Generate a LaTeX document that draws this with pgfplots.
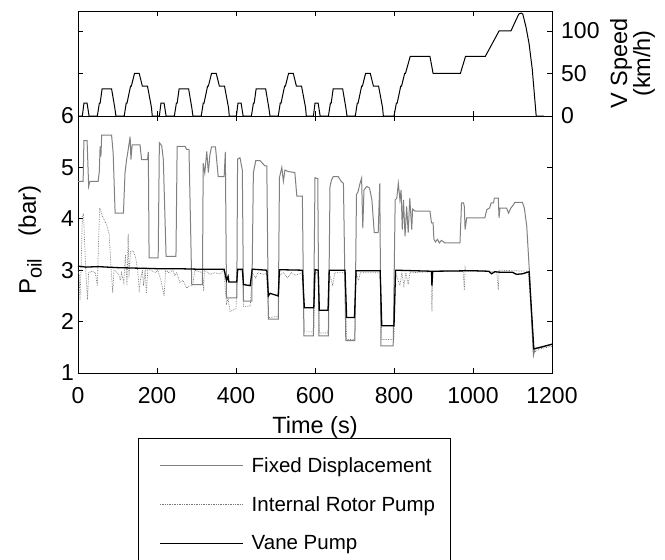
\documentclass[border=0pt]{standalone}
\usepackage{fontspec}
\setmainfont{Liberation Sans}
\usepackage{pgfplots}
\pgfplotsset{compat=1.18}
\definecolor{fixgray}{RGB}{128,128,128}
\definecolor{dotgray}{RGB}{120,120,120}
\begin{document}
\begin{tikzpicture}
\useasboundingbox (0pt,0pt) rectangle (665pt,-560pt);
\pgfplotsset{every axis/.append style={
  scale only axis, tick align=inside, major tick length=5pt,
  axis line style={line width=0.8pt},
  every tick/.style={black, line width=0.8pt},
  /pgf/number format/assume math mode=true,
  /pgf/number format/1000 sep={},
  tick label style={font=\fontsize{23}{26}\selectfont},
  label style={font=\fontsize{23.5}{20.5}\selectfont},
  xmin=0, xmax=1200, xtick={0,200,...,1200}}}
% ---------------- top: vehicle speed ----------------
\begin{axis}[at={(78pt,-116pt)}, anchor=south west, width=474pt, height=105pt,
  ymin=0, ymax=123.5, ytick={0,50,100}, xticklabels={},
  yticklabel pos=right,
  yticklabel style={inner sep=0pt, anchor=west, xshift=9pt},
  ylabel={V Speed\\(km/h)},
  ylabel style={at={(axis description cs:1.17,0.5)}, anchor=center, align=center}]
\addplot[black, line width=1pt] coordinates {
(0,0)(11,0)(15,15)(23,15)(28,0)(49,0)(54,15)(56,15)(61,32)(85,32)(93,10)(96,0)(117,0)(122,15)(124,15)(133,35)(135,35)(143,50)(155,50)(163,35)(176,35)(186,10)(188,0)(195,0)
(206,0)(210,15)(218,15)(223,0)(244,0)(249,15)(251,15)(256,32)(280,32)(288,10)(291,0)(312,0)(317,15)(319,15)(328,35)(330,35)(338,50)(350,50)(358,35)(371,35)(381,10)(383,0)(390,0)
(401,0)(405,15)(413,15)(418,0)(439,0)(444,15)(446,15)(451,32)(475,32)(483,10)(486,0)(507,0)(512,15)(514,15)(523,35)(525,35)(533,50)(545,50)(553,35)(566,35)(576,10)(578,0)(585,0)
(596,0)(600,15)(608,15)(613,0)(634,0)(639,15)(641,15)(646,32)(670,32)(678,10)(681,0)(702,0)(707,15)(709,15)(718,35)(720,35)(728,50)(740,50)(748,35)(761,35)(771,10)(773,0)(780,0)
(800,0)(806,15)(808,15)(817,35)(819,35)(827,50)(829,50)(841,70)(891,70)(899,50)(968,50)(981,70)(1031,70)(1066,100)(1096,100)(1116,120)(1122,121)(1126,120)(1134,105)(1142,85)(1150,55)(1160,0)(1180,0)
};
\end{axis}
% ---------------- bottom: oil pressure ----------------
\begin{axis}[at={(78pt,-373pt)}, anchor=south west, width=474pt, height=257pt,
  ymin=1, ymax=6, ytick={1,2,...,6},
  xticklabel style={anchor=base, yshift=-30pt},
  yticklabel style={inner sep=0pt, anchor=east, xshift=-4pt},
  xlabel={Time (s)},
  xlabel style={at={(axis description cs:0.5,-0.2335)}, anchor=base},
  ylabel={P\textsubscript{\fontsize{20}{20}\selectfont oil}\hspace{22pt}(bar)},
  ylabel style={at={(axis description cs:-0.101,0.5175)}, anchor=center, font=\fontsize{24}{24}\selectfont},
  legend cell align=left,
  legend style={at={(axis description cs:0.1266,-0.2529)}, anchor=north west,
    draw=black, line width=0.8pt, inner xsep=15pt, inner ysep=19pt,
    row sep=22.7pt, column sep=8pt, font=\fontsize{20.5}{24}\selectfont,
    nodes={inner sep=0pt}},
  legend image code/.code={\path (0pt,0pt); \draw[#1] (6pt,0pt) -- (89pt,0pt);}]
\addplot[fixgray, line width=1pt] coordinates {
(0,4.73)(13,4.73)(15,5.52)(23,5.52)(27,4.63)(30,4.73)(51,4.73)(54,4.92)(56,5.41)(58,5.21)(60,5.63)(85,5.63)(89,5.28)(94,4.11)(115,4.11)(119,4.89)(123,5.15)(127,5.34)(132,5.60)(134,5.15)(137,5.44)(157,5.44)(161,5.15)(176,5.15)(178,5.30)(180,3.24)(203,3.24)(206,5.48)(212,5.42)(216,5.15)(223,3.27)(248,3.27)(251,5.41)(271,5.41)(275,5.35)(281,5.35)(288,2.72)(315,2.72)(317,5.08)(321,4.89)(326,5.31)(330,4.90)(334,5.25)(338,5.40)(348,5.40)(355,4.82)(370,4.82)(373,5.30)(376,2.46)(402,2.46)(404,5.16)(410,5.19)(416,4.95)(419,2.40)(440,2.40)(444,4.90)(450,5.13)(461,5.13)(473,5.03)(478,5.03)(482,2.05)(507,2.05)(510,4.80)(516,5.00)(520,4.73)(524,4.95)(532,4.92)(549,4.90)(554,4.44)(568,4.44)(572,1.72)(596,1.72)(600,4.80)(607,4.78)(610,1.72)(634,1.72)(638,4.63)(642,4.76)(646,4.82)(659,4.82)(666,4.73)(672,4.69)(678,1.63)(701,1.63)(705,4.47)(709,4.53)(714,4.69)(718,4.79)(721,3.82)(724,4.56)(731,4.63)(738,4.60)(744,4.37)(750,3.73)(760,3.73)(764,4.69)(767,1.53)(798,1.53)(803,4.37)(807,4.40)(811,4.69)(815,4.37)(818,4.56)(821,3.79)(824,4.37)(828,3.66)(832,4.24)(836,3.73)(840,4.40)(845,3.79)(847,4.19)(853,4.15)(891,4.15)(895,3.92)(899,3.92)(901,3.60)(905,3.55)(910,3.60)(915,3.53)(920,3.58)(929,3.53)(967,3.53)(971,4.31)(976,4.31)(978,4.24)(980,3.79)(984,4.02)(1030,4.02)(1035,4.18)(1042,4.21)(1046,4.31)(1052,4.31)(1054,4.40)(1064,4.40)(1066,4.02)(1068,4.21)(1085,4.21)(1090,4.11)(1096,4.21)(1102,4.27)(1106,4.32)(1125,4.32)(1130,4.21)(1136,3.86)(1144,2.82)(1149,1.92)(1153,1.34)(1157,1.47)(1174,1.50)(1200,1.56)
};
\addlegendentry{Fixed Displacement}
\addplot[dotgray, line width=0.7pt, densely dotted] coordinates {
(0,3.00)(3,2.90)(5,2.43)(8,3.10)(11,4.05)(14,4.10)(17,3.50)(20,2.95)(24,2.43)(27,2.95)(35,2.98)(44,2.95)(49,2.70)(52,3.55)(55,4.21)(62,4.05)(72,3.89)(79,3.70)(84,3.00)(88,2.56)(91,3.00)(96,2.98)(100,2.95)(104,2.90)(107,2.80)(110,2.95)(116,2.76)(120,3.30)(124,2.70)(127,3.70)(129,2.85)(133,3.36)(140,3.38)(146,3.24)(151,3.00)(155,2.62)(159,2.85)(163,3.00)(166,2.70)(170,3.00)(173,2.55)(177,3.05)(185,3.00)(196,2.95)(202,3.00)(210,2.80)(218,2.50)(222,3.00)(230,2.95)(240,3.00)(245,2.90)(250,2.95)(258,2.76)(266,2.80)(275,2.65)(282,2.70)(290,2.70)(296,3.00)(315,2.95)(318,2.60)(320,3.00)(335,2.92)(345,2.95)(360,2.93)(370,3.00)(373,2.60)(376,2.35)(380,2.45)(385,2.20)(400,2.25)(404,3.00)(416,2.98)(419,2.30)(436,2.30)(441,2.95)(450,2.85)(455,2.95)(470,2.92)(478,2.95)(482,2.08)(507,2.10)(510,2.90)(520,2.95)(530,2.85)(540,2.95)(550,2.90)(560,2.93)(568,2.95)(573,1.80)(597,1.80)(600,2.95)(608,2.95)(611,1.78)(633,1.78)(636,2.95)(645,2.70)(650,2.95)(676,2.95)(680,1.65)(700,1.65)(704,2.95)(710,2.80)(715,2.95)(765,2.95)(769,1.65)(800,1.65)(804,2.95)(815,2.70)(820,2.95)(825,2.70)(830,2.95)(836,2.72)(840,2.95)(895,2.97)(896,2.20)(898,2.98)(975,2.98)(978,2.62)(980,3.05)(982,2.98)(1060,2.98)(1064,2.62)(1066,3.00)(1140,2.98)(1149,2.00)(1154,1.40)(1170,1.47)(1200,1.52)
};
\addlegendentry{Internal Rotor Pump}
\addplot[black, line width=1.3pt] coordinates {
(0,3.08)(20,3.06)(50,3.07)(100,3.05)(150,3.04)(200,3.03)(250,3.03)(300,3.02)(370,3.02)(376,2.80)(380,2.88)(382,2.77)(402,2.77)(404,3.02)(416,3.02)(419,2.72)(436,2.70)(441,3.02)(478,3.00)(482,2.50)(486,2.55)(507,2.50)(510,3.01)(568,3.00)(573,2.27)(597,2.27)(600,3.01)(608,3.00)(611,2.22)(633,2.22)(636,3.00)(676,3.00)(680,2.08)(700,2.08)(704,2.99)(765,2.99)(769,1.92)(800,1.92)(804,3.00)(895,2.98)(896,2.70)(898,2.98)(1000,2.99)(1040,2.98)(1047,2.93)(1055,2.97)(1070,2.96)(1100,2.96)(1110,2.92)(1125,2.93)(1142,2.97)(1149,2.10)(1154,1.47)(1170,1.50)(1200,1.56)
};
\addlegendentry{Vane Pump}
\end{axis}
\end{tikzpicture}
\end{document}
